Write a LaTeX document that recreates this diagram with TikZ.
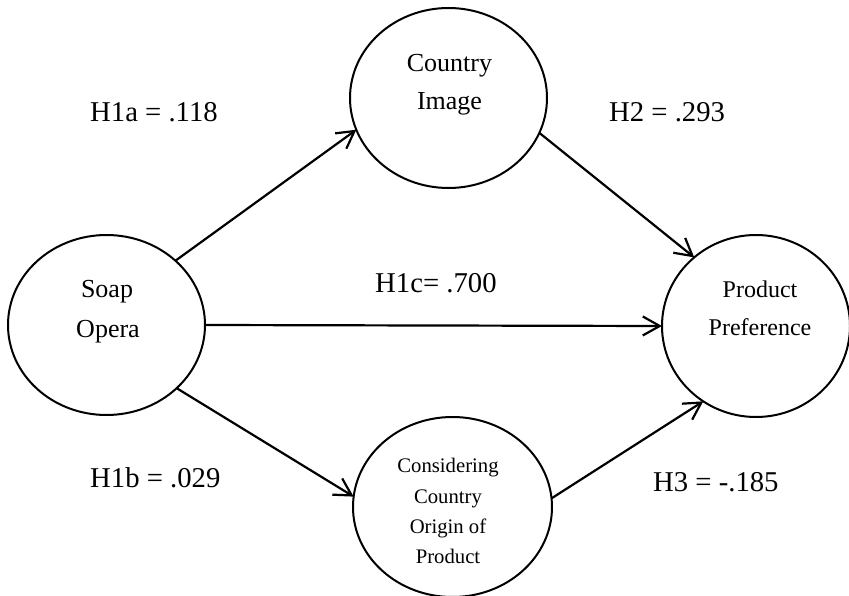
\documentclass[tikz,border=0pt]{standalone}
\usepackage{fontspec}
\setmainfont{Liberation Serif}
\usetikzlibrary{arrows.meta,shapes.geometric}
\begin{document}
\begin{tikzpicture}[x=1pt,y=-1pt,
  latent/.style={draw, line width=2pt, ellipse, inner sep=0pt, outer sep=0pt},
  conn/.style={line width=2.2pt, -{Straight Barb[length=17pt,width=19pt,line width=2.2pt]}},
  lbl/.style={anchor=base west, inner sep=0pt, font=\fontsize{28.7}{34}\selectfont},
  txtbig/.style={anchor=base, inner sep=0pt, font=\fontsize{26}{30}\selectfont},
  txtmid/.style={anchor=base, inner sep=0pt, font=\fontsize{24}{28}\selectfont},
  txtsml/.style={anchor=base, inner sep=0pt, font=\fontsize{20.7}{24}\selectfont}]
\useasboundingbox (0,0) rectangle (849,596);
% ellipses
\node[latent, minimum width=197pt, minimum height=180pt] (soap) at (106.5,325) {};
\node[latent, minimum width=197pt, minimum height=180pt] (country) at (448.5,98) {};
\node[latent, minimum width=188pt, minimum height=182pt] (product) at (756,326) {};
\node[latent, minimum width=199pt, minimum height=180pt] (consider) at (452.5,507) {};
% ellipse texts
\node[txtbig] (soap1) at (107,298) {Soap};
\node[txtbig] (soap2) at (108,337) {Opera};
\node[txtbig] (ctry1) at (449.5,72) {Country};
\node[txtbig] (ctry2) at (449.5,110) {Image};
\node[txtmid] (prod1) at (760,298) {Product};
\node[txtmid] (prod2) at (760,335) {Preference};
\node[txtsml] (cons1) at (448,472) {Considering};
\node[txtsml] (cons2) at (448,503) {Country};
\node[txtsml] (cons3) at (448,533) {Origin of};
\node[txtsml] (cons4) at (448,563) {Product};
% connectors
\draw[conn] (soap.43.5) -- (country.199.4);
\draw[conn] (soap.0) -- (product.180);
\draw[conn] (soap.-42.6) -- (consider.174.3);
\draw[conn] (country.-21.6) -- (product.132.8);
\draw[conn] (consider.5.2) -- (product.235.1);
% labels
\node[lbl] (h1a) at (90,122) {H1a = .118};
\node[lbl] (h2) at (609,122) {H2 = .293};
\node[lbl] (h1c) at (375,292) {H1c= .700};
\node[lbl] (h1b) at (90,487) {H1b = .029};
\node[lbl] (h3) at (653,491) {H3 = -.185};
\end{tikzpicture}
\end{document}
